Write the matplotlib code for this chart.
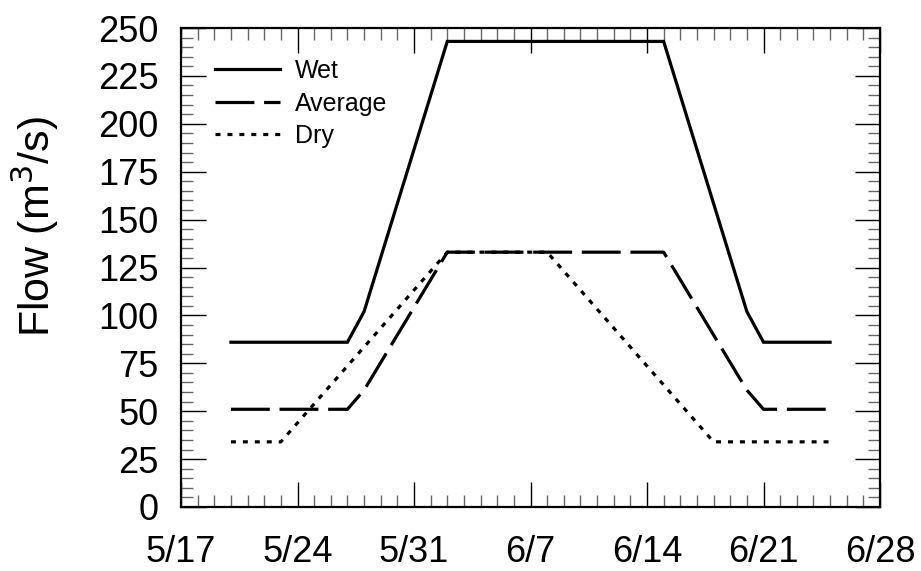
import matplotlib
matplotlib.use("Agg")
import matplotlib.pyplot as plt
import matplotlib.dates as mdates
from matplotlib.ticker import MultipleLocator
import datetime as dt

plt.rcParams['font.family'] = ['Liberation Sans', 'DejaVu Sans']
plt.rcParams['lines.scale_dashes'] = False

YEAR = 2000

def md(s):
    m, d = s.split('/')
    return dt.date(YEAR, int(m), int(d))

# ---- data ----
wet_dates = ['5/20', '5/27', '5/28', '6/2', '6/15', '6/20', '6/21', '6/25']
wet_flow = [86, 86, 102, 243, 243, 102, 86, 86]

avg_dates = ['5/20', '5/27', '5/28', '6/2', '6/15', '6/20', '6/21', '6/25']
avg_flow = [51, 51, 61, 133, 133, 61, 51, 51]

dry_dates = ['5/20', '5/23', '6/2', '6/8', '6/18', '6/25']
dry_flow = [34, 34, 133, 133, 34, 34]

x_tick_labels = ['5/17', '5/24', '5/31', '6/7', '6/14', '6/21', '6/28']
y_ticks = [0, 25, 50, 75, 100, 125, 150, 175, 200, 225, 250]

fig = plt.figure(figsize=(9.21, 5.71), dpi=100)
ax = fig.add_axes([181/921, 1-507/571, 699/921, 479/571])

ax.plot([md(s) for s in wet_dates], wet_flow, color='black', lw=2.3,
        solid_joinstyle='miter', label='Wet')
ax.plot([md(s) for s in avg_dates], avg_flow, color='black', lw=2.3,
        dashes=(28, 7), label='Average')
ax.plot([md(s) for s in dry_dates], dry_flow, color='black', lw=2.3,
        dashes=(3.6, 5.0), label='Dry')

ax.set_xlim(md('5/17'), md('6/28'))
ax.set_ylim(0, 250)

ax.set_xticks([md(s) for s in x_tick_labels])
ax.set_xticklabels(x_tick_labels)
ax.xaxis.set_minor_locator(mdates.DayLocator())
ax.set_yticks(y_ticks)
ax.set_yticklabels([str(v) for v in y_ticks])
ax.yaxis.set_minor_locator(MultipleLocator(5))

ax.tick_params(which='major', direction='in', length=18, width=1.0, color='black',
               top=True, right=True, labelsize=26)
ax.tick_params(axis='y', which='major', pad=16)
ax.tick_params(axis='x', which='major', pad=20)
ax.tick_params(which='minor', direction='in', length=8.5, width=1.0, color='#666666',
               top=True, right=True)

for sp in ax.spines.values():
    sp.set_linewidth(1.6)

ax.set_ylabel('Flow (m$^3$/s)', fontsize=31)
ax.yaxis.set_label_coords(-0.172, 0.585)

leg = ax.legend(loc='upper left', bbox_to_anchor=(0.0486, 0.935), frameon=False,
                fontsize=18, handlelength=2.6, handletextpad=0.61,
                labelspacing=0.34, borderpad=0, borderaxespad=0)

fig.savefig('out.png', dpi=100)
